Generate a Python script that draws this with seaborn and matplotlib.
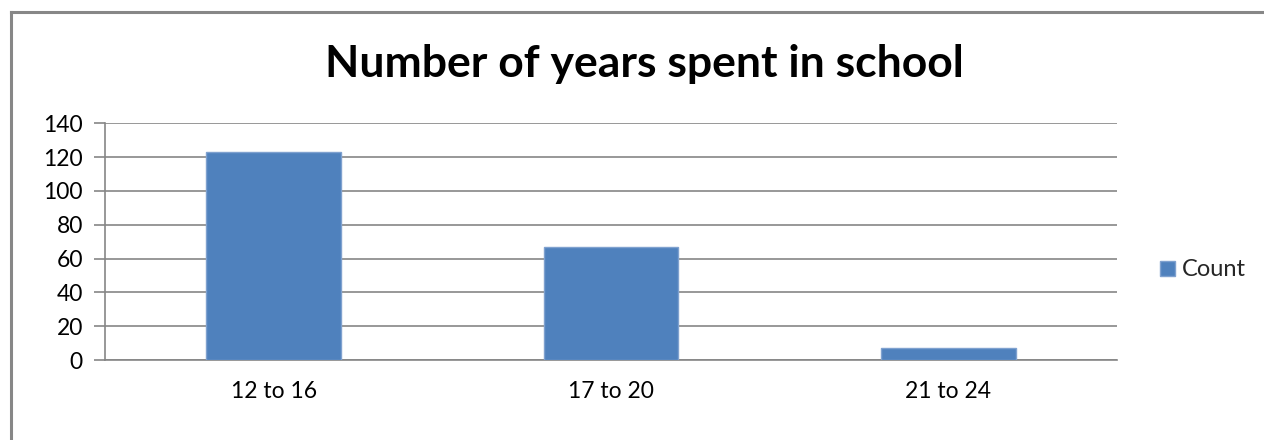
import matplotlib
matplotlib.use("Agg")
import matplotlib.pyplot as plt
import matplotlib.lines as mlines
import seaborn as sns
import pandas as pd
from matplotlib.ticker import FixedLocator

# Data
categories = ["12 to 16", "17 to 20", "21 to 24"]
counts = [123, 67, 7]
series_name = "Count"
y_ticks = [0, 20, 40, 60, 80, 100, 120, 140]
title = "Number of years spent in school"

sns.set_theme(style="white")
plt.rcParams["font.family"] = ["Lato", "DejaVu Sans"]

bar_color = "#4F81BD"
grid_color = "#868686"
text_color = "#000000"

df = pd.DataFrame({"range": categories, "count": counts})

fig = plt.figure(figsize=(12.64, 4.40), dpi=100)
ax = fig.add_axes([105 / 1264, 1 - 360 / 440, (1117 - 105) / 1264, (360 - 123.3) / 440])

sns.barplot(data=df, x="range", y="count", color=bar_color, width=0.4,
            saturation=1, ax=ax, label=series_name, zorder=3,
            edgecolor="#7FA1CF", linewidth=1)

ax.set_ylim(0, 140)
ax.set_xlim(-0.5, 2.5)
ax.set_yticks(y_ticks)
ax.yaxis.grid(True, color=grid_color, linewidth=1.2, zorder=0)
ax.xaxis.grid(False)
ax.set_axisbelow(True)

for side in ["top", "right"]:
    ax.spines[side].set_visible(False)
for side in ["left", "bottom"]:
    ax.spines[side].set_color(grid_color)
    ax.spines[side].set_linewidth(1.2)

ax.set_xlabel("")
ax.set_ylabel("")

# Category boundary ticks on the x axis, labels centered under the bars
ax.xaxis.set_minor_locator(FixedLocator([-0.5, 0.5, 1.5, 2.5]))
ax.tick_params(axis="x", which="minor", length=8, width=1.2, color=grid_color, direction="out")
ax.tick_params(axis="x", which="major", length=0, pad=15, labelsize=16.5, labelcolor=text_color)
ax.tick_params(axis="y", which="major", length=8, width=1.2, color=grid_color, direction="out",
               pad=8, labelsize=16.5, labelcolor=text_color, left=True)

fig.text(644 / 1264, 1 - 64 / 440, title, ha="center", va="center",
         fontsize=32, fontweight="bold", color=text_color)

ax.legend(loc="center left", bbox_to_anchor=(1151 / 1264, 1 - 270 / 440),
          bbox_transform=fig.transFigure, frameon=False, fontsize=17,
          handlelength=0.6, handleheight=0.6, handletextpad=0.3, borderaxespad=0)

# Chart frame: left and top edges of the border
frame_x = 11 / 1264
frame_y = 1 - 12 / 440
fig.add_artist(mlines.Line2D([frame_x, frame_x], [0, frame_y], transform=fig.transFigure,
                             color="#878787", linewidth=2.2, solid_capstyle="projecting"))
fig.add_artist(mlines.Line2D([frame_x, 1], [frame_y, frame_y], transform=fig.transFigure,
                             color="#878787", linewidth=2.2, solid_capstyle="projecting"))

fig.savefig("out.png", dpi=100, facecolor="white")
